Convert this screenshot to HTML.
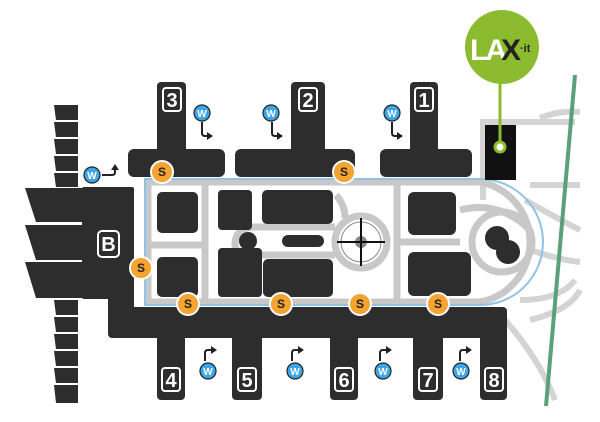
<!DOCTYPE html>
<html><head><meta charset="utf-8"><style>
html,body{margin:0;padding:0;background:#fff;}
svg{display:block}
text{font-family:"Liberation Sans",sans-serif;font-weight:bold}
</style></head><body>
<svg width="600" height="422" viewBox="0 0 600 422" xmlns="http://www.w3.org/2000/svg">
<g fill="none" stroke="#d4d4d4" stroke-width="6">
<path d="M483 200 L483 122 L575 122"/>
<path d="M540 118 Q560 110 580 112"/>
<path d="M530 185 L580 185"/>
<path d="M525 200 Q560 220 580 230"/>
<path d="M530 250 Q560 260 580 262"/>
<path d="M520 300 Q560 300 575 280"/>
<path d="M505 320 Q540 360 555 400"/>
<path d="M530 320 Q570 310 580 290"/>
</g>
<g fill="none" stroke="#c8c8c8" stroke-width="7">
<path d="M148 182 L480 182 A61 61 0 0 1 480 302 L148 302 Z"/>
<path d="M205 182 L205 302"/>
<path d="M397 182 L397 302"/>
<path d="M148 245 L205 245"/>
<circle cx="361" cy="242" r="26"/>
<path d="M235 245 Q235 227 255 227 L335 227"/>
<path d="M235 245 Q235 255 255 255 L335 255"/>
<path d="M336 195 Q345 205 345 218"/>
<path d="M397 242 L460 242"/>
<circle cx="502" cy="242" r="30"/>
<path d="M460 210 Q500 200 530 230"/>
</g>
<path d="M145 179 L480 179 A63 63 0 0 1 480 305 L145 305 Z" fill="none" stroke="#8fc3e6" stroke-width="2"/>
<path d="M575 75 L546 406" stroke="#5aa07a" stroke-width="4"/>
<g fill="#2d2d2d">
<rect x="157" y="82" width="29" height="80" rx="4"/>
<rect x="128" y="149" width="97" height="28" rx="6"/>
<rect x="291" y="82" width="34" height="80" rx="4"/>
<rect x="235" y="149" width="120" height="28" rx="6"/>
<rect x="410" y="82" width="28" height="80" rx="4"/>
<rect x="380" y="149" width="92" height="28" rx="6"/>
<rect x="108" y="307" width="399" height="31" rx="4"/>
<rect x="157" y="320" width="28" height="80" rx="4"/>
<rect x="232" y="320" width="30" height="80" rx="4"/>
<rect x="330" y="320" width="28" height="80" rx="4"/>
<rect x="413" y="320" width="30" height="80" rx="4"/>
<rect x="480" y="320" width="27" height="80" rx="4"/>
<rect x="82" y="187" width="52" height="112" rx="2"/>
<rect x="108" y="295" width="26" height="20"/>
<polygon points="25,188 82,188 82,222 36,222"/>
<polygon points="25,225 82,225 82,260 36,260"/>
<polygon points="25,262 82,262 82,298 36,298"/>
<polygon points="54,105 78,105 78,120 56,120"/>
<polygon points="54,122 78,122 78,137 56,137"/>
<polygon points="54,139 78,139 78,154 56,154"/>
<polygon points="54,156 78,156 78,171 56,171"/>
<polygon points="54,173 78,173 78,187 56,187"/>
<polygon points="54,300 78,300 78,315 56,315"/>
<polygon points="54,317 78,317 78,332 56,332"/>
<polygon points="54,334 78,334 78,349 56,349"/>
<polygon points="54,351 78,351 78,366 56,366"/>
<polygon points="54,368 78,368 78,383 56,383"/>
<polygon points="54,385 78,385 78,403 56,403"/>
<rect x="157" y="192" width="41" height="41" rx="5"/>
<rect x="157" y="257" width="41" height="40" rx="5"/>
<rect x="218" y="190" width="34" height="40" rx="4"/>
<rect x="262" y="190" width="71" height="34" rx="5"/>
<rect x="218" y="248" width="44" height="49" rx="4"/>
<rect x="263" y="259" width="70" height="38" rx="5"/>
<circle cx="248" cy="241" r="9"/>
<rect x="282" y="235" width="42" height="12" rx="6"/>
<rect x="408" y="192" width="48" height="43" rx="6"/>
<rect x="408" y="252" width="63" height="44" rx="6"/>
<circle cx="497" cy="238" r="12"/>
<circle cx="508" cy="252" r="12"/>
</g>
<circle cx="361" cy="242" r="20" fill="none" stroke="#888" stroke-width="1"/>
<circle cx="361" cy="242" r="6" fill="#888"/>
<path d="M361 218 V266 M337 242 H385" stroke="#111" stroke-width="2"/>
<rect x="485" y="125" width="31" height="55" fill="#111"/>
<path d="M500 80 V147" stroke="#8cbb2f" stroke-width="3"/>
<circle cx="500" cy="147" r="5" fill="#fff" stroke="#8cbb2f" stroke-width="3"/>
<circle cx="502" cy="47" r="37" fill="#8cbb2f"/>
<text x="470" y="60" font-size="30" fill="#fff" letter-spacing="-3">LA</text>
<text x="501" y="60" font-size="30" fill="#222">X</text>
<text x="520" y="52" font-size="11" fill="#222">·it</text>
<g font-size="20" fill="#fff" text-anchor="middle">
<g fill="none" stroke="#fff" stroke-width="2">
<rect x="163" y="88" width="18" height="23" rx="3"/>
<rect x="299" y="88" width="18" height="23" rx="3"/>
<rect x="415" y="88" width="18" height="23" rx="3"/>
<rect x="162" y="368" width="18" height="23" rx="3"/>
<rect x="238" y="368" width="18" height="23" rx="3"/>
<rect x="335" y="368" width="18" height="23" rx="3"/>
<rect x="419" y="368" width="18" height="23" rx="3"/>
<rect x="485" y="368" width="18" height="23" rx="3"/>
<rect x="98" y="231" width="21" height="26" rx="4"/>
</g>
<text x="172" y="107">3</text><text x="308" y="107">2</text><text x="424" y="107">1</text>
<text x="171" y="387">4</text><text x="247" y="387">5</text><text x="344" y="387">6</text>
<text x="428" y="387">7</text><text x="494" y="387">8</text>
<text x="108.5" y="251">B</text>
</g>
<g font-size="12" text-anchor="middle">
<g fill="#f5a431" stroke="#fff" stroke-width="2">
<circle cx="162" cy="172" r="11"/><circle cx="344" cy="172" r="11"/>
<circle cx="141" cy="268" r="11"/><circle cx="188" cy="304" r="11"/>
<circle cx="281" cy="304" r="11"/><circle cx="360" cy="304" r="11"/>
<circle cx="438" cy="304" r="11"/>
</g>
<g fill="#222">
<text x="162" y="176">S</text><text x="344" y="176">S</text><text x="141" y="272">S</text>
<text x="188" y="308">S</text><text x="281" y="308">S</text><text x="360" y="308">S</text><text x="438" y="308">S</text>
</g>
</g>
<g fill="none" stroke="#222" stroke-width="2">
<path d="M202 122 V133 Q202 136 205 136 H208"/>
<path d="M272 122 V133 Q272 136 275 136 H278"/>
<path d="M392 122 V133 Q392 136 395 136 H398"/>
<path d="M102 175 H112 Q115 175 115 172 V169"/>
<path d="M205 361 V353 Q205 350 208 350 H212"/>
<path d="M292 361 V353 Q292 350 295 350 H299"/>
<path d="M380 361 V353 Q380 350 383 350 H387"/>
<path d="M460 361 V353 Q460 350 463 350 H467"/>
</g>
<g fill="#222">
<polygon points="207,132 213,136 207,140"/>
<polygon points="277,132 283,136 277,140"/>
<polygon points="397,132 403,136 397,140"/>
<polygon points="111,170 115,164 119,170"/>
<polygon points="211,346 217,350 211,354"/>
<polygon points="298,346 304,350 298,354"/>
<polygon points="386,346 392,350 386,354"/>
<polygon points="466,346 472,350 466,354"/>
</g>
<g font-size="10" text-anchor="middle">
<g fill="#3ea6e6" stroke="#222" stroke-width="1.2">
<circle cx="202" cy="113" r="8"/><circle cx="271" cy="113" r="8"/><circle cx="392" cy="113" r="8"/>
<circle cx="92" cy="175" r="8"/><circle cx="208" cy="371" r="8"/><circle cx="295" cy="371" r="8"/>
<circle cx="383" cy="371" r="8"/><circle cx="461" cy="371" r="8"/>
</g>
<g fill="#fff">
<text x="202" y="117">W</text><text x="271" y="117">W</text><text x="392" y="117">W</text>
<text x="92" y="179">W</text><text x="208" y="375">W</text><text x="295" y="375">W</text>
<text x="383" y="375">W</text><text x="461" y="375">W</text>
</g>
</g>
</svg>
</body></html>
